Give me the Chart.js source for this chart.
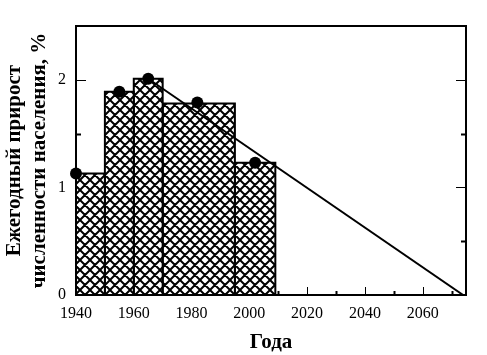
<!DOCTYPE html>
<html>
<head>
<meta charset="utf-8">
<script src="https://cdn.jsdelivr.net/npm/chart.js@4"></script>
<style>
  html, body { margin: 0; padding: 0; background: #fff; }
  #wrap { width: 487px; height: 355px; }
</style>
</head>
<body>
<div id="wrap"><canvas id="chart1" width="487" height="355"></canvas></div>
<script>
// histogram bins: start year, end year, annual growth (%)
const binStart = [1940, 1950, 1960, 1970, 1995];
const binEnd = [1950, 1960, 1970, 1995, 2009];
const growth = [1.13, 1.89, 2.01, 1.78, 1.23];

// black dots
const pointYears = [1940, 1955, 1965, 1982, 2002];
const pointValues = [1.13, 1.89, 2.01, 1.79, 1.23];

// straight trend line
const trendYears = [1965, 2074];
const trendValues = [2.01, 0];

// tick labels
const xTicks = [1940, 1960, 1980, 2000, 2020, 2040, 2060];
const yTicks = [0, 1, 2];

const FONT = "'Liberation Serif', 'Times New Roman', serif";

// cross hatch fill
function makeHatch() {
    const size = 10;
    const c = document.createElement('canvas');
    c.width = size;
    c.height = size;
    const g = c.getContext('2d');
    g.fillStyle = '#fff';
    g.fillRect(0, 0, size, size);
    g.strokeStyle = '#000';
    g.lineWidth = 2;
    g.beginPath();
    for (const k of [-size, 0, size]) {
        g.moveTo(k - 1, -1);
        g.lineTo(k + size + 1, size + 1);
        g.moveTo(k + size + 1, -1);
        g.lineTo(k - 1, size + 1);
    }
    g.stroke();
    return g.createPattern(c, 'repeat');
}
const hatch = makeHatch();

// ticks drawn inside the frame, frame around the plot
const framePlugin = {
    id: 'frame',
    beforeDatasetsDraw(chart) {
        const ctx = chart.ctx;
        const a = chart.chartArea;
        const xs = chart.scales.x;
        const ys = chart.scales.y;
        ctx.save();
        ctx.strokeStyle = '#000';
        // x ticks every 10 years
        for (let v = xs.min + 10; v < xs.max; v += 10) {
            const major = xTicks.includes(v);
            const px = Math.round(xs.getPixelForValue(v)) + 0.5;
            ctx.lineWidth = major ? 1 : 2;
            ctx.beginPath();
            ctx.moveTo(px, a.bottom);
            ctx.lineTo(px, a.bottom - (major ? 8 : 4));
            ctx.stroke();
        }
        // y ticks every 0.5
        for (let v = 0.5; v < ys.max; v += 0.5) {
            const major = yTicks.includes(v);
            const py = Math.round(ys.getPixelForValue(v)) + 0.5;
            const len = major ? 10 : 5;
            ctx.lineWidth = major ? 1 : 2;
            ctx.beginPath();
            ctx.moveTo(a.left, py);
            ctx.lineTo(a.left + len, py);
            ctx.moveTo(a.right, py);
            ctx.lineTo(a.right - len, py);
            ctx.stroke();
        }
        ctx.restore();
    },
    afterDraw(chart) {
        const ctx = chart.ctx;
        const a = chart.chartArea;
        ctx.save();
        ctx.strokeStyle = '#000';
        ctx.lineWidth = 2;
        ctx.strokeRect(a.left, a.top, a.right - a.left, a.bottom - a.top);
        ctx.restore();
    }
};

const datasets = [];

datasets.push({
    type: 'scatter',
    data: pointYears.map((y, i) => ({ x: y, y: pointValues[i] })),
    pointRadius: 6,
    pointBackgroundColor: '#000',
    pointBorderWidth: 0,
    showLine: false,
    clip: false
});

datasets.push({
    type: 'line',
    data: trendYears.map((y, i) => ({ x: y, y: trendValues[i] })),
    borderColor: '#000',
    borderWidth: 2,
    pointRadius: 0,
    fill: false
});

// each bar is a closed outline filled down to zero
binStart.forEach((s, i) => {
    const e = binEnd[i];
    const h = growth[i];
    datasets.push({
        type: 'line',
        data: [{ x: s, y: 0 }, { x: s, y: h }, { x: e, y: h }, { x: e, y: 0 }],
        borderColor: '#000',
        borderWidth: 2,
        borderJoinStyle: 'miter',
        backgroundColor: hatch,
        fill: 'origin',
        pointRadius: 0,
        tension: 0
    });
});

new Chart(document.getElementById('chart1'), {
    type: 'scatter',
    data: { datasets: datasets },
    options: {
        responsive: false,
        animation: false,
        layout: { padding: { top: 26, right: 21, left: 0, bottom: 0 } },
        plugins: {
            legend: { display: false },
            tooltip: { enabled: false }
        },
        scales: {
            x: {
                type: 'linear',
                min: 1940,
                max: 2075,
                afterBuildTicks: s => { s.ticks = xTicks.map(v => ({ value: v })); },
                afterFit: s => { s.height = 60; },
                grid: { display: false, drawTicks: false },
                border: { display: false },
                ticks: {
                    color: '#000',
                    padding: 9,
                    maxRotation: 0,
                    font: { family: FONT, size: 16 },
                    callback: v => String(v)
                },
                title: {
                    display: true,
                    text: 'Года',
                    color: '#000',
                    padding: { top: 0, bottom: 0 },
                    font: { family: FONT, size: 21, weight: 'bold' }
                }
            },
            y: {
                min: 0,
                max: 2.5,
                afterBuildTicks: s => { s.ticks = yTicks.map(v => ({ value: v })); },
                afterFit: s => { s.width = 76; },
                grid: { display: false, drawTicks: false },
                border: { display: false },
                ticks: {
                    color: '#000',
                    padding: 10,
                    font: { family: FONT, size: 16 },
                    callback: v => String(v)
                },
                title: {
                    display: true,
                    text: ['Ежегодный прирост', 'численности населения, %'],
                    color: '#000',
                    padding: { top: 1.5, bottom: 0 },
                    font: { family: FONT, size: 21, weight: 'bold', lineHeight: 1.2 }
                }
            }
        }
    },
    plugins: [framePlugin]
});
</script>
</body>
</html>
